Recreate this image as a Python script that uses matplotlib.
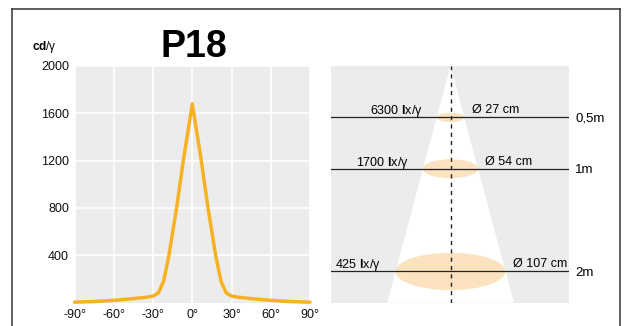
import numpy as np
import matplotlib.pyplot as plt
from matplotlib.patches import Ellipse, Polygon
from matplotlib.lines import Line2D

plt.rcParams['font.family'] = ['Liberation Sans', 'DejaVu Sans']
plt.rcParams['mathtext.fontset'] = 'custom'
plt.rcParams['mathtext.rm'] = 'Liberation Sans'
plt.rcParams['mathtext.bf'] = 'Liberation Sans:bold'

# Light distribution curve (cd per unit)
angles = [-90, -75, -60, -45, -35, -30, -26, -22, -18, -12, -7, -3, 0,
          3, 7, 12, 18, 22, 26, 30, 35, 45, 60, 75, 90]
candela = [3, 8, 18, 33, 45, 55, 80, 178, 390, 800, 1190, 1470, 1680,
           1470, 1190, 800, 390, 178, 80, 55, 45, 33, 18, 8, 3]
x_ticks = [-90, -60, -30, 0, 30, 60, 90]
y_ticks = [400, 800, 1200, 1600, 2000]

# Beam diagram
distances_cm = [50, 100, 200]
distance_labels = ['0,5m', '1m', '2m']
lux = [6300, 1700, 425]
diameters_cm = [27, 54, 107]

W, H = 628, 326
orange = '#F7B125'
grey_bg = '#EBECEB'
peach = '#FCE2BE'


def px(x0, y0, x1, y1):
    return [x0 / W, 1 - y1 / H, (x1 - x0) / W, (y1 - y0) / H]


fig = plt.figure(figsize=(W / 100, H / 100), dpi=100)

# outer frame (bottom edge is cut off)
for xs, ys in [((11.5, 11.5), (H + 5, 8.5)), ((11.5, 620), (8.5, 8.5)), ((620, 620), (8.5, H + 5))]:
    fig.add_artist(Line2D([x / W for x in xs], [1 - y / H for y in ys],
                          color='#333333', lw=1.1))

# left: candela curve
ax = fig.add_axes(px(74.6, 66, 310, 302.5))
ax.set_facecolor(grey_bg)
ax.set_xlim(-90, 90)
ax.set_ylim(0, 2000)
ax.set_xticks(x_ticks)
ax.set_xticklabels([f'{t}°' for t in x_ticks])
ax.set_yticks(y_ticks)
ax.set_yticklabels([str(t) for t in y_ticks])
ax.tick_params(length=0, labelsize=9, colors='#111111')
ax.tick_params(axis='x', pad=5)
ax.tick_params(axis='y', pad=4)
ax.grid(True, color='white', lw=1.2)
ax.set_axisbelow(True)
for s in ax.spines.values():
    s.set_visible(False)
ax.plot(angles, candela, color=orange, lw=2.5, solid_capstyle='round',
        solid_joinstyle='round', clip_on=False, zorder=3)

fig.text(194 / W, 1 - 57 / H, 'P18', fontsize=27, fontweight='bold',
         ha='center', va='baseline')
fig.text(32 / W, 1 - 50 / H, r'$\mathbf{cd}$/γ', fontsize=8.5, va='baseline')

# right: beam diagram, units cm
bx = fig.add_axes(px(331, 66, 568.5, 302.7))
bx.set_facecolor(grey_bg)
depth = 230.4
bx.set_xlim(-116.3, 114.8)
bx.set_ylim(depth, 0)
bx.set_xticks([])
bx.set_yticks([])
for s in bx.spines.values():
    s.set_visible(False)

half = diameters_cm[-1] / 2 * depth / distances_cm[-1]
bx.add_patch(Polygon([(0, 0), (-half, depth), (half, depth)], closed=True,
                     facecolor='white', edgecolor='none', zorder=1))

for d, lab, lx, dia in zip(distances_cm, distance_labels, lux, diameters_cm):
    bx.add_patch(Ellipse((0, d), dia, dia * 0.34, facecolor=peach,
                         edgecolor='none', zorder=2))
    bx.axhline(d, color='#222222', lw=0.9, zorder=3)
    bx.text(-dia / 2 - 14, d - 3, f'{lx} ' + r'$\mathbf{l}$x/γ', fontsize=9,
            ha='right', va='baseline', zorder=4)
    bx.text(dia / 2 + 7, d - 4, f'Ø {dia} cm', fontsize=9,
            ha='left', va='baseline', zorder=4)
    bx.text(121.5, d + 1.5, lab, fontsize=9.5, ha='left', va='center',
            clip_on=False)

bx.axvline(0, color='#222222', lw=1.0, dashes=(3, 3), zorder=5)

fig.savefig('out.png', dpi=100)
